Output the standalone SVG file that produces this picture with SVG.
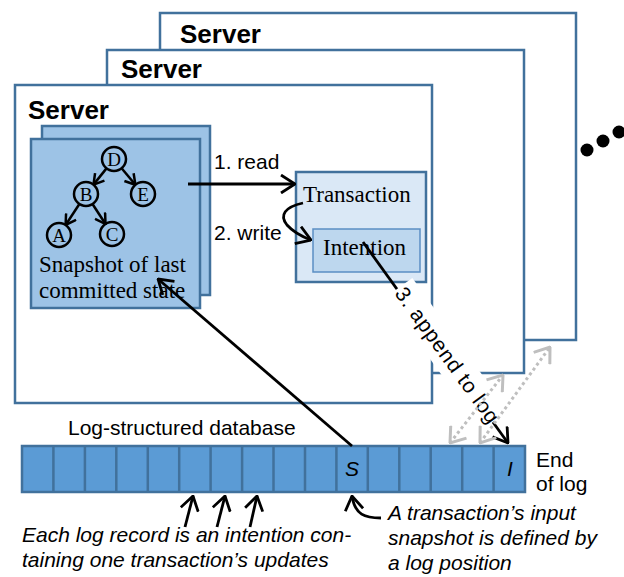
<svg xmlns="http://www.w3.org/2000/svg" width="624" height="577" viewBox="0 0 624 577">
<style>
.srv{fill:#fff;stroke:#41719c;stroke-width:2.5}
.stitle{font-family:"Liberation Sans",Arial,sans-serif;font-weight:bold;font-size:26px;fill:#000}
.sans{font-family:"Liberation Sans",Arial,sans-serif;font-size:21px;fill:#000}
.it{font-family:"Liberation Sans",Arial,sans-serif;font-size:21px;font-style:italic;fill:#000}
.serif{font-family:"Liberation Serif","Times New Roman",serif;font-size:23px;fill:#000}
.node{font-family:"Liberation Serif","Times New Roman",serif;font-size:19px;fill:#000;text-anchor:middle}
.circ{fill:none;stroke:#000;stroke-width:2.5}
.ar{fill:none;stroke:#000;stroke-width:2.8;marker-end:url(#ah)}
.tar{fill:none;stroke:#000;stroke-width:2.5;marker-end:url(#ahs)}
.gray{fill:none;stroke:#bfbfbf;stroke-width:3;stroke-dasharray:3 3;marker-start:url(#ahg);marker-end:url(#ahg)}
.cell{fill:#5b9bd5;stroke:#41719c;stroke-width:2.5}
</style>
<defs>
<marker id="ah" viewBox="0 0 16 20" refX="15" refY="10" markerWidth="16" markerHeight="20" markerUnits="userSpaceOnUse" orient="auto"><path d="M1,1 L15,10 L1,19" fill="none" stroke="#000" stroke-width="2.8"/></marker>
<marker id="ahs" viewBox="0 0 12 14" refX="11" refY="7" markerWidth="12" markerHeight="14" markerUnits="userSpaceOnUse" orient="auto"><path d="M1,1 L11,7 L1,13" fill="none" stroke="#000" stroke-width="2.5"/></marker>
<marker id="ahg" viewBox="0 0 16 22" refX="15" refY="11" markerWidth="16" markerHeight="22" markerUnits="userSpaceOnUse" orient="auto-start-reverse"><path d="M1,1 L15,11 L1,21" fill="none" stroke="#bfbfbf" stroke-width="3"/></marker>
</defs>

<g id="server3"><rect class="srv" x="160" y="13" width="416" height="327"/><text class="stitle" x="180" y="43">Server</text></g>
<g id="server2"><rect class="srv" x="107" y="50" width="417" height="323"/><text class="stitle" x="121" y="78">Server</text></g>
<g id="server1"><rect class="srv" x="15" y="85" width="417" height="318"/><text class="stitle" x="28" y="119">Server</text></g>

<g id="more"><circle cx="587" cy="150" r="6.5"/><circle cx="603" cy="141" r="6.5"/><circle cx="619" cy="132" r="6.5"/></g>

<g id="snapshot">
<rect x="42" y="126" width="168" height="169" fill="#9dc3e6" stroke="#41719c" stroke-width="2.5"/>
<rect x="31" y="139" width="169" height="169" fill="#9dc3e6" stroke="#41719c" stroke-width="2.5"/>
<circle class="circ" cx="114" cy="159" r="12"/><text class="node" x="114" y="166">D</text>
<circle class="circ" cx="86" cy="194" r="12"/><text class="node" x="86" y="201">B</text>
<circle class="circ" cx="143" cy="194" r="12"/><text class="node" x="143" y="201">E</text>
<circle class="circ" cx="59" cy="235" r="12"/><text class="node" x="59" y="242">A</text>
<circle class="circ" cx="112" cy="234" r="12"/><text class="node" x="112" y="241">C</text>
<path class="tar" d="M106.5,168.4 L93.5,184.6"/>
<path class="tar" d="M121.6,168.2 L135.4,184.8"/>
<path class="tar" d="M79.4,204 L65.6,225"/>
<path class="tar" d="M92.5,204 L105.5,224"/>
<text class="serif" x="39" y="272">Snapshot of last</text>
<text class="serif" x="39" y="298">committed state</text>
</g>

<g id="transaction">
<rect x="296" y="172" width="130" height="110" fill="#dae8f6" stroke="#41719c" stroke-width="2.5"/>
<text class="serif" x="303" y="202">Transaction</text>
</g>
<g id="intention">
<rect x="313" y="229" width="107" height="43" fill="#bdd7ee" stroke="#5b8ec4" stroke-width="1.5"/>
<text class="serif" x="323" y="255">Intention</text>
</g>

<g id="log">
<rect class="cell" x="22" y="446" width="503" height="46"/>
<path d="M53.4,446V492M84.9,446V492M116.3,446V492M147.8,446V492M179.2,446V492M210.6,446V492M242.1,446V492M273.5,446V492M305,446V492M336.4,446V492M367.8,446V492M399.3,446V492M430.7,446V492M462.2,446V492M493.6,446V492" stroke="#41719c" stroke-width="2.5"/>
<text class="it" x="352" y="476" text-anchor="middle">S</text>
<text class="it" x="510" y="476" text-anchor="middle">I</text>
<text class="sans" x="68" y="435">Log-structured database</text>
<text class="sans" x="536" y="467">End</text>
<text class="sans" x="536" y="491">of log</text>
</g>

<g id="notes">
<text class="it" x="22" y="542">Each log record is an intention con-</text>
<text class="it" x="22" y="567">taining one transaction’s updates</text>
<text class="it" x="388" y="520">A transaction’s input</text>
<text class="it" x="388" y="545">snapshot is defined by</text>
<text class="it" x="388" y="570">a log position</text>
</g>

<g id="connectors">
<path class="ar" d="M188,184 L295,184"/>
<text class="sans" x="214" y="169">1. read</text>
<text class="sans" x="214" y="240">2. write</text>
<path class="ar" d="M303,203 C285,207 279,215 287,225 Q295,234 311,240"/>
<path class="ar" d="M363,242 L508,443"/>
<g transform="translate(363,242) rotate(54.2)">
<rect x="58" y="-19" width="164" height="33" fill="#fff"/>
<text class="sans" x="60" y="5" textLength="162" lengthAdjust="spacing">3. append to log</text>
</g>
<path class="gray" d="M450,443 L503,375"/>
<path class="gray" d="M480,443 L550,347"/>
<path class="ar" d="M352,446 L158,279"/>
<path class="ar" d="M185,527 L193,496"/>
<path class="ar" d="M217,527 L225,496"/>
<path class="ar" d="M250,527 L257,496"/>
<path class="ar" d="M381,518 C365,518 355,515 352,496"/>
</g>
</svg>
